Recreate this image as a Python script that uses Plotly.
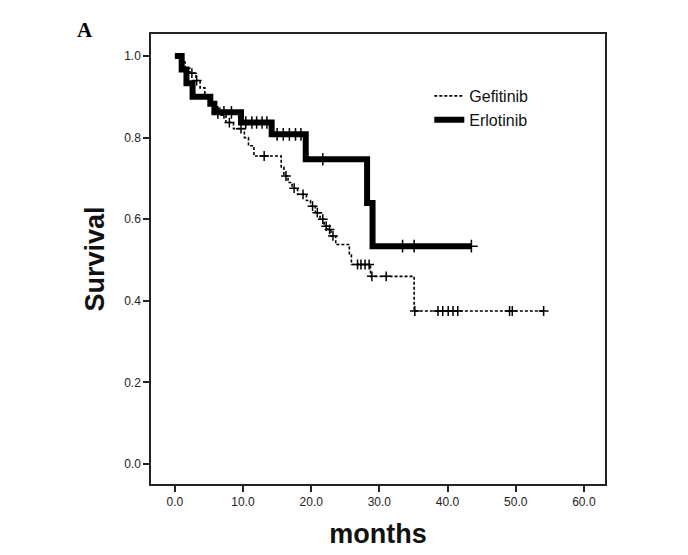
import plotly.graph_objects as go

# Gefitinib Kaplan-Meier steps
gef_time = [0, 0.8, 1.5, 2.2, 3.1, 3.7, 4.4, 5.2, 6.0, 6.8, 7.5, 8.6, 10.2, 10.8, 11.6, 15.6, 16.0,
            16.6, 17.2, 18.0, 19.3, 19.9, 20.6, 21.3, 21.9, 22.4, 22.9, 23.6, 25.6, 25.9, 28.7, 35.1, 54.1]
gef_surv = [1.0, 0.985, 0.97, 0.958, 0.94, 0.922, 0.905, 0.888, 0.872, 0.855, 0.837, 0.822, 0.80, 0.78,
            0.755, 0.728, 0.706, 0.69, 0.676, 0.661, 0.646, 0.632, 0.616, 0.60, 0.583, 0.575, 0.559,
            0.538, 0.512, 0.489, 0.46, 0.375, 0.375]
gef_censor = [2.5, 3.2, 8.0, 9.7, 13.1, 16.3, 17.5, 18.8, 20.2, 20.9, 21.7, 22.2, 22.7, 23.2, 26.8,
              27.3, 27.9, 28.5, 28.9, 31.0, 35.2, 38.6, 39.3, 40.1, 40.8, 41.5, 49.1, 49.5, 54.1]

# Erlotinib Kaplan-Meier steps
erl_time = [0, 1.0, 1.7, 2.6, 5.2, 5.8, 9.7, 14.2, 19.2, 28.2, 29.0, 43.5]
erl_surv = [1.0, 0.967, 0.933, 0.90, 0.883, 0.862, 0.837, 0.808, 0.747, 0.64, 0.534, 0.534]
erl_censor = [6.3, 7.2, 8.3, 10.4, 11.3, 12.0, 12.8, 13.5, 15.0, 15.9, 16.8, 17.7, 18.5, 21.7,
              33.4, 35.1, 43.5]

x_ticks = [0, 10, 20, 30, 40, 50, 60]
y_ticks = [0.0, 0.2, 0.4, 0.6, 0.8, 1.0]


def step_value(times, surv, t):
    v = surv[0]
    for ti, si in zip(times, surv):
        if ti <= t:
            v = si
    return v


FONT = "Arial, Liberation Sans, sans-serif"

fig = go.Figure()
fig.add_trace(go.Scatter(x=gef_time, y=gef_surv, mode="lines", line_shape="hv",
                         line=dict(color="black", width=1.6, dash="3px,2px"), name="Gefitinib"))
fig.add_trace(go.Scatter(x=erl_time, y=erl_surv, mode="lines", line_shape="hv",
                         line=dict(color="black", width=6), name="Erlotinib"))
fig.add_trace(go.Scatter(x=gef_censor, y=[step_value(gef_time, gef_surv, t) for t in gef_censor],
                         mode="markers", showlegend=False,
                         marker=dict(symbol="cross-thin", size=7, color="black",
                                     line=dict(color="black", width=1.5))))
fig.add_trace(go.Scatter(x=erl_censor, y=[step_value(erl_time, erl_surv, t) for t in erl_censor],
                         mode="markers", showlegend=False,
                         marker=dict(symbol="cross-thin", size=9, color="black",
                                     line=dict(color="black", width=1.5))))

fig.update_layout(
    width=688, height=555,
    margin=dict(l=143, r=91, t=26, b=79),
    paper_bgcolor="white", plot_bgcolor="white",
    font=dict(family=FONT, color="#222"),
    legend=dict(x=0.613, y=0.9, xanchor="left", yanchor="top",
                font=dict(size=16, family=FONT, color="#111"),
                bgcolor="rgba(0,0,0,0)", itemwidth=30),
    annotations=[dict(text="<b>A</b>", x=-0.168, y=0.978, xref="paper", yref="paper",
                      showarrow=False, xanchor="left", yanchor="bottom",
                      font=dict(family="Liberation Serif, Times New Roman, serif", size=21, color="black"))],
)
fig.update_xaxes(range=[-3.5, 63.1], tickvals=x_ticks, tickformat=".1f",
                 ticks="outside", ticklen=6, tickwidth=1.5, tickcolor="#222",
                 showline=True, linecolor="#222", linewidth=1.5, mirror=True,
                 showgrid=False, zeroline=False,
                 tickfont=dict(size=12, family=FONT, color="#222"),
                 title=dict(text="<b>months</b>", font=dict(size=27, family=FONT, color="#111"),
                            standoff=16))
fig.update_yaxes(range=[-0.049, 1.054], tickvals=y_ticks, tickformat=".1f",
                 ticks="outside", ticklen=6, tickwidth=1.5, tickcolor="#222",
                 showline=True, linecolor="#222", linewidth=1.5, mirror=True,
                 showgrid=False, zeroline=False,
                 tickfont=dict(size=12, family=FONT, color="#222"),
                 title=dict(text="<b>Survival</b>", font=dict(size=27, family=FONT, color="#111"),
                            standoff=12))

fig.write_html("out.html")
